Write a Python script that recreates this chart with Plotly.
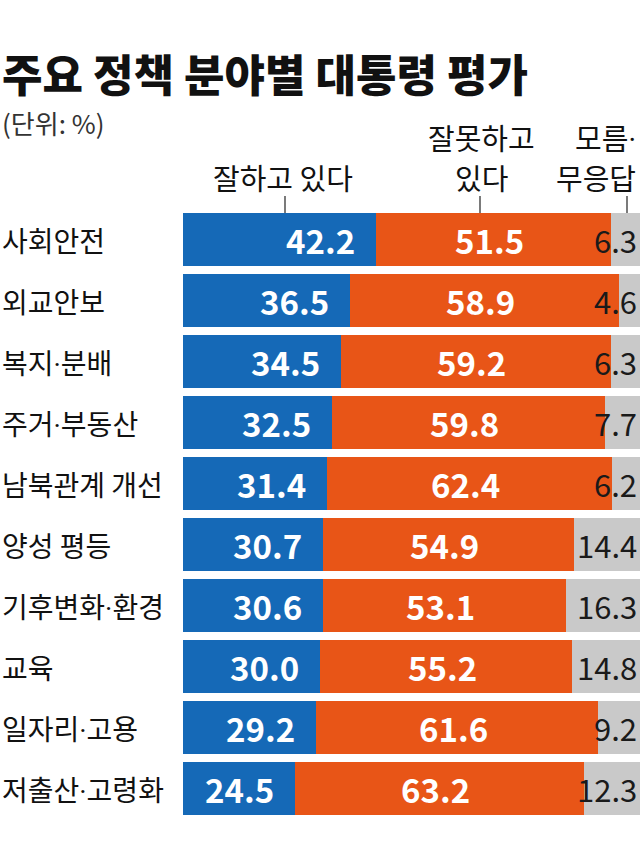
import plotly.graph_objects as go

# 주요 정책 분야별 대통령 평가 (단위: %)
categories = ['사회안전', '외교안보', '복지·분배', '주거·부동산', '남북관계 개선',
              '양성 평등', '기후변화·환경', '교육', '일자리·고용', '저출산·고령화']
good = [42.2, 36.5, 34.5, 32.5, 31.4, 30.7, 30.6, 30.0, 29.2, 24.5]
bad = [51.5, 58.9, 59.2, 59.8, 62.4, 54.9, 53.1, 55.2, 61.6, 63.2]
unknown = [6.3, 4.6, 6.3, 7.7, 6.2, 14.4, 16.3, 14.8, 9.2, 12.3]

series_names = ['잘하고 있다', '잘못하고 있다', '모름·무응답']

W, H = 640, 848
FONT = 'Noto Sans CJK KR, Noto Sans, sans-serif'
BLUE = '#1569b7'
ORANGE = '#e85517'
GRAY = '#c9c9c9'
NARROW_DOT = '<span style="font-family:Roboto">·</span>'


def px(x):
    return x / W


def py(y):
    return 1 - y / H


def label(s):
    # the CJK middle dot is full width, swap in a narrow one
    return s.replace('·', NARROW_DOT)


fig = go.Figure()
for name, vals, col in zip(series_names, [good, bad, unknown], [BLUE, ORANGE, GRAY]):
    fig.add_trace(go.Bar(name=name, x=vals, y=categories, orientation='h',
                         marker_color=col, marker_line_width=0, width=0.86,
                         hoverinfo='x+y', showlegend=False))

ann = []
for cat, g, b, u in zip(categories, good, bad, unknown):
    # category label at the far left
    ann.append(dict(x=0, xref='paper', y=cat, yref='y', text=label(cat), showarrow=False,
                    xanchor='left', font=dict(size=28, color='#111')))
    ann.append(dict(x=g, xref='x', y=cat, yref='y', text=f'{g:.1f}', showarrow=False,
                    xanchor='right', xshift=-19,
                    font=dict(size=33, color='white', weight='bold')))
    ann.append(dict(x=g + b / 2, xref='x', y=cat, yref='y', text=f'{b:.1f}', showarrow=False,
                    xanchor='center', xshift=-4,
                    font=dict(size=33, color='white', weight='bold')))
    ann.append(dict(x=100, xref='x', y=cat, yref='y', text=f'{u:.1f}', showarrow=False,
                    xanchor='right', xshift=-1,
                    font=dict(size=31, color='#1a1a1a')))

# title and unit
ann.append(dict(x=0, xref='paper', y=py(73), yref='paper', text='주요 정책 분야별 대통령 평가',
                showarrow=False, xanchor='left', yanchor='middle',
                font=dict(size=44, color='#111', weight=900)))
ann.append(dict(x=0, xref='paper', y=py(122), yref='paper', text='(단위: %)',
                showarrow=False, xanchor='left', yanchor='middle',
                font=dict(size=26, color='#333')))

# series headers
head = [('잘하고 있다', 283, 177, 'center'),
        ('잘못하고', 481, 137, 'center'),
        ('있다', 481, 177, 'center'),
        ('모름' + NARROW_DOT, 638, 137, 'right'),
        ('무응답', 638, 177, 'right')]
for t, x, y, anc in head:
    ann.append(dict(x=px(x), xref='paper', y=py(y), yref='paper', text=t, showarrow=False,
                    xanchor=anc, yanchor='middle', font=dict(size=29, color='#111')))

shapes = []
for x in [285, 480, 627]:
    shapes.append(dict(type='line', xref='paper', yref='paper', x0=px(x), x1=px(x),
                       y0=py(196), y1=py(213), line=dict(color='#222', width=1.2)))

fig.update_layout(
    width=W, height=H,
    margin=dict(l=0, r=0, t=0, b=0),
    barmode='stack', bargap=0,
    plot_bgcolor='white', paper_bgcolor='white',
    font=dict(family=FONT),
    xaxis=dict(domain=[183 / W, 1], range=[0, 100], visible=False, fixedrange=True),
    yaxis=dict(domain=[py(819), py(209)], range=[9.5, -0.5], visible=False,
               type='category', categoryorder='array', categoryarray=categories),
    annotations=ann,
    shapes=shapes,
)

fig.write_html('out.html', config={'displayModeBar': False},
               post_script="document.body.style.margin='0';")
